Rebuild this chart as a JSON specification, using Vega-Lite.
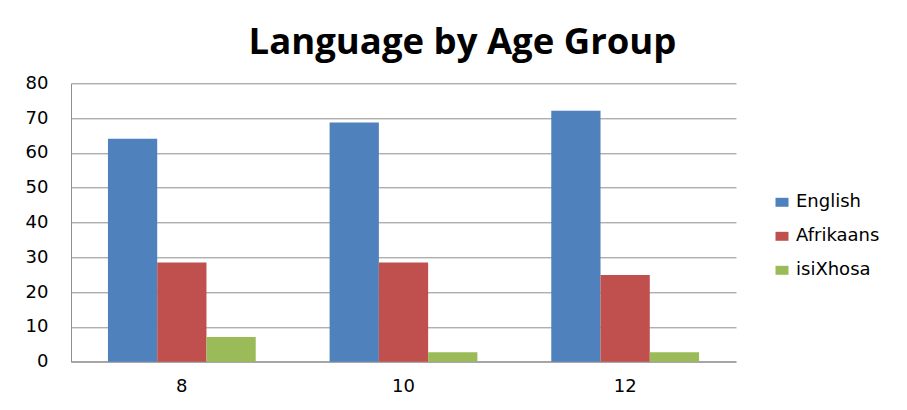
{
  "$schema": "https://vega.github.io/schema/vega-lite/v6.json",
  "autosize": {"type": "none"},
  "width": 665,
  "height": 278.4,
  "padding": {"left": 71, "top": 83.3, "right": 171, "bottom": 48.3},
  "background": "white",
  "title": {
    "text": "Language by Age Group",
    "font": "Open Sans",
    "fontSize": 36.5,
    "fontWeight": "bold",
    "color": "#000000",
    "anchor": "middle",
    "frame": "group",
    "dx": 59,
    "dy": 39,
    "baseline": "alphabetic",
    "offset": 23
  },
  "data": {
    "values": [
      {"age": "8", "language": "English", "percent": 64.1},
      {"age": "8", "language": "Afrikaans", "percent": 28.5},
      {"age": "8", "language": "isiXhosa", "percent": 7.1},
      {"age": "10", "language": "English", "percent": 68.7},
      {"age": "10", "language": "Afrikaans", "percent": 28.5},
      {"age": "10", "language": "isiXhosa", "percent": 2.7},
      {"age": "12", "language": "English", "percent": 72.1},
      {"age": "12", "language": "Afrikaans", "percent": 24.9},
      {"age": "12", "language": "isiXhosa", "percent": 2.7}
    ]
  },
  "mark": {"type": "bar"},
  "encoding": {
    "x": {
      "field": "age",
      "type": "nominal",
      "sort": ["8", "10", "12"],
      "scale": {"paddingInner": 0.3333, "paddingOuter": 0.1667},
      "axis": {
        "title": null,
        "labelAngle": 0,
        "ticks": false,
        "domain": true,
        "domainColor": "#8E8E8E",
        "labelFont": "DejaVu Sans",
        "labelFontSize": 18,
        "labelColor": "#000000",
        "labelPadding": 16,
        "grid": false
      }
    },
    "xOffset": {
      "field": "language",
      "type": "nominal",
      "sort": ["English", "Afrikaans", "isiXhosa"],
      "scale": {"paddingInner": 0, "paddingOuter": 0}
    },
    "y": {
      "field": "percent",
      "type": "quantitative",
      "scale": {"domain": [0, 80], "nice": false},
      "axis": {
        "title": null,
        "values": [0, 10, 20, 30, 40, 50, 60, 70, 80],
        "ticks": false,
        "domain": true,
        "domainColor": "#8E8E8E",
        "grid": true,
        "gridColor": "#8E8E8E",
        "gridWidth": 1,
        "labelFont": "DejaVu Sans",
        "labelFontSize": 18,
        "labelColor": "#000000",
        "labelPadding": 23
      }
    },
    "color": {
      "field": "language",
      "type": "nominal",
      "scale": {
        "domain": ["English", "Afrikaans", "isiXhosa"],
        "range": ["#4F81BD", "#C0504D", "#9BBB59"]
      },
      "legend": {
        "title": null,
        "orient": "none",
        "legendX": 702,
        "legendY": 110,
        "padding": 0,
        "symbolType": "M-1,-0.69H1V0.69H-1Z",
        "symbolSize": 169,
        "symbolStrokeWidth": 0,
        "labelFont": "DejaVu Sans",
        "labelFontSize": 18,
        "labelColor": "#000000",
        "labelOffset": 5,
        "rowPadding": 16
      }
    }
  },
  "config": {
    "view": {"stroke": null}
  }
}
